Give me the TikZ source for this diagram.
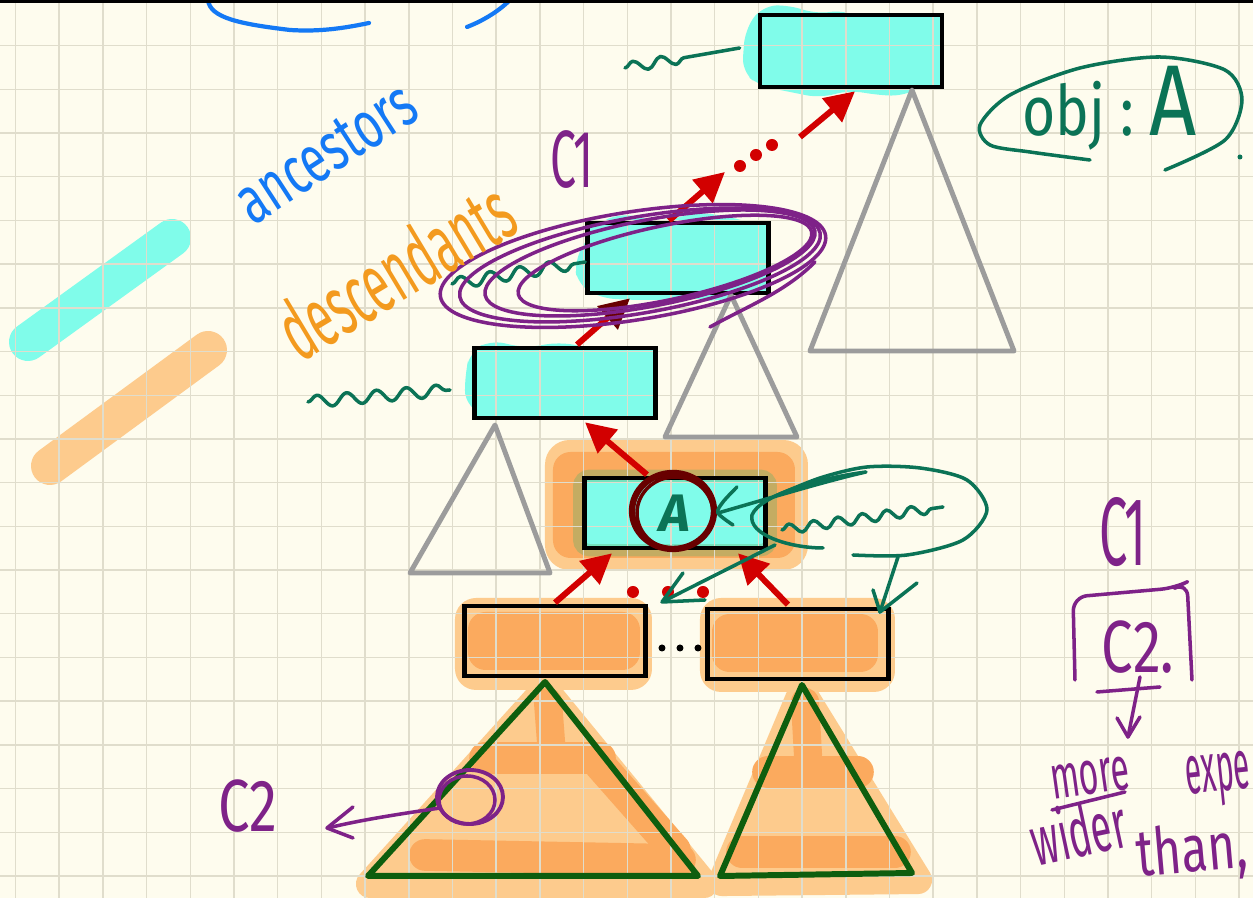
\documentclass[tikz,border=0pt]{standalone}
\usepackage{fontspec}
\setmainfont{Fira Sans}
\usepackage{graphicx}
\usetikzlibrary{arrows.meta,calc,decorations.pathmorphing}

\definecolor{paper}{HTML}{FEFCEE}
\definecolor{rule}{HTML}{E0DDCC}
\definecolor{hlcyan}{HTML}{80FCEA}
\definecolor{orlight}{HTML}{FDCB8D}
\definecolor{ormid}{HTML}{FBAA5E}
\definecolor{hlgreen}{HTML}{5FB26A}
\definecolor{arrowred}{HTML}{D20000}
\definecolor{maroon}{HTML}{680000}
\definecolor{inkteal}{HTML}{0B7356}
\definecolor{treegreen}{HTML}{0E5E0E}
\definecolor{inkpurple}{HTML}{7E2288}
\definecolor{inkblue}{HTML}{1479F5}
\definecolor{inkorange}{HTML}{F39A1E}
\definecolor{treegray}{HTML}{9C9C9C}

\pgfdeclarelayer{paperlayer}
\pgfdeclarelayer{paint}
\pgfdeclarelayer{gridlayer}
\pgfsetlayers{paperlayer,paint,gridlayer,main}

\tikzset{
  box/.style={draw=black, line width=1.3pt, minimum width=1.81cm, minimum height=0.7cm, inner sep=0pt},
  tree/.style={treegray, line width=1.4pt, line join=round},
  subtree/.style={treegreen, line width=1.7pt, line join=round},
  link/.style={arrowred, line width=1.7pt, -{Triangle[length=8.5pt,width=8.5pt]}},
  ink/.style={line width=1pt, line cap=round, line join=round},
  wave/.style={ink, inkteal, decorate, decoration={snake, amplitude=1.6pt, segment length=8pt}},
  hand/.style={inner sep=0pt},
  band/.style={ormid, line width=9pt, line cap=round},
}

\begin{document}
\begin{tikzpicture}[x=0.01cm, y=-0.01cm]
\useasboundingbox (0,0) rectangle (1253,898);

% the chain of objects
\node[box, minimum width=1.82cm, minimum height=0.72cm] (top) at (851,51) {};
\node[box] (c1) at (678,258) {};
\node[box] (b3) at (565,383) {};
\node[box] (a) at (675,513) {};
\node[box] (bl) at (555,641) {};
\node[box] (br) at (798,644) {};

\begin{pgfonlayer}{paperlayer}
  \fill[paper] (0,0) rectangle (1253,898);
\end{pgfonlayer}

\begin{pgfonlayer}{gridlayer}
  \foreach \i in {0,...,28}
    \draw[rule, line width=0.4pt] ({15.5+43.7*\i},0) -- ({15.5+43.7*\i},898);
  \foreach \j in {1,...,20}
    \draw[rule, line width=0.4pt] (0,{2+43.7*\j}) -- (1253,{2+43.7*\j});
\end{pgfonlayer}

\begin{pgfonlayer}{paint}
  % highlighter legend strips
  \draw[hlcyan, line width=10.8pt, line cap=round] (28,342) -- (172,238);
  \draw[orlight, line width=10.8pt, line cap=round] (50,466) -- (208,350);

  % cyan marker behind the ancestors
  \fill[hlcyan, rounded corners=4pt] (745,30) -- (762,6) -- (790,5) -- (815,14) -- (845,10)
     -- (870,22) -- (900,16) -- (935,22) -- (937,78) -- (905,96) -- (875,95) -- (850,90)
     -- (820,98) -- (790,92) -- (760,86) -- (742,72) -- cycle;
  \fill[hlcyan, rounded corners=4pt] (595,225) -- (620,213) -- (660,222) -- (700,212)
     -- (735,218) -- (762,226) -- (768,245) -- (760,270) -- (740,292) -- (720,303)
     -- (700,298) -- (660,300) -- (630,300) -- (600,298) -- (578,285) -- (574,262) -- cycle;
  \fill[hlcyan, rounded corners=4pt] (470,352) -- (490,340) -- (525,348) -- (560,342)
     -- (600,350) -- (632,352) -- (642,372) -- (640,400) -- (630,418) -- (490,418)
     -- (465,405) -- (465,375) -- cycle;
  \fill[hlcyan] (top.south west) rectangle (top.north east);
  \fill[hlcyan] (c1.south west) rectangle (c1.north east);
  \fill[hlcyan] (b3.south west) rectangle (b3.north east);

  % orange marker round the current object
  \fill[orlight, rounded corners=7pt] (545,440) rectangle (808,570);
  \fill[ormid, rounded corners=5pt] (553,452) rectangle (795,558);
  \fill[hlcyan] (a.south west) rectangle (a.north east);
  \draw[hlgreen, opacity=0.35, line width=3.5pt, rounded corners=3pt]
     ($(a.south west)+(-3,0)$) rectangle ($(a.north east)+(3,0)$);

  % orange marker on the descendants
  \fill[orlight, rounded corners=6pt] (455,598) rectangle (652,690);
  \fill[ormid, rounded corners=5pt] (468,612) rectangle (640,670);
  \fill[orlight, rounded corners=6pt] (700,598) rectangle (895,692);
  \fill[ormid, rounded corners=5pt] (712,614) rectangle (878,672);

  \filldraw[orlight, line width=8pt, line join=round] (545,690) -- (704,884) -- (370,884) -- cycle;
  \draw[band, line width=8pt] (548,702) -- (552,755);
  \draw[band] (485,758) -- (600,758);
  \draw[band] (425,855) -- (680,860);
  \draw[band] (600,765) -- (675,850);
  \filldraw[orlight, line width=8pt, line join=round] (802,692) -- (918,880) -- (722,882) -- cycle;
  \draw[band, line width=8pt] (805,702) -- (808,755);
  \draw[band] (768,772) -- (858,772);
  \draw[band] (742,852) -- (895,852);
\end{pgfonlayer}

% grey subtrees hanging from the ancestors
\draw[tree] (912,90) -- (1014,351) -- (810,351) -- cycle;
\draw[tree] (731,295) -- (797,437) -- (665,437) -- cycle;
\draw[tree] (495,425) -- (550,573) -- (410,573) -- cycle;

% green subtrees of the descendants
\draw[subtree] (545,682) -- (698,876) -- (368,876) -- cycle;
\draw[subtree] (802,685) -- (912,873) -- (720,876) -- cycle;

% parent links
\coordinate (up1) at (725,172);
\coordinate (dotsend) at (800,137);
\draw[link, -{Triangle[length=8.5pt,width=8.5pt,color=maroon]}]
   ($(b3.north)+(12,-1)$) -- ($(c1.south)+(-48,3)$);
\draw[link] ($(c1.north)+(-9,0)$) -- (up1);
\foreach \p in {(740,166),(756,155),(772,145)}
  \fill[arrowred] \p circle[radius=6];
\draw[link] (dotsend) -- ($(top.south)+(4,2)$);
\draw[link] ($(a.north)+(-28,-1)$) -- ($(b3.south)+(20,2)$);
\draw[link] ($(bl.north)+(0,-1)$) -- ($(a.south)+(-63,3)$);
\draw[link] ($(br.north)+(-10,-2)$) -- ($(a.south)+(63,3)$);
\foreach \p in {(633,592),(668,592),(703,592)}
  \fill[arrowred] \p circle[radius=6];
\foreach \p in {(662,648),(680,648),(698,648)}
  \fill[black] \p circle[radius=3.5];

% the object A
\node[hand, inkteal] (alabel) at (a) {\fontsize{15}{15}\selectfont\bfseries\itshape A};
\draw[maroon, line width=1.8pt] ($(a)+(-2,-2)$) ellipse [x radius=41, y radius=38];
\draw[maroon, line width=1pt] (a) ellipse [x radius=38, y radius=36];

% notes beside the object
\draw[ink, inkteal] plot[smooth] coordinates {(737,487) (723,502) (718,513) (733,525)};
\draw[ink, inkteal] (718,513) .. controls (770,498) and (830,480) .. (866,472)
   .. controls (820,478) and (760,495) .. (752,515) .. controls (748,535) and (790,548) .. (823,548);
\draw[ink, inkteal] plot[smooth] coordinates {(773,497) (820,478) (867,467) (920,468) (967,480) (987,510) (963,540) (907,555) (853,555)};
\draw[wave, decoration={snake, amplitude=1.4pt, segment length=7pt}] (782,530) -- (943,507);
\draw[ink, inkteal] (898,557) -- (880,612);
\draw[ink, inkteal] (873,590) -- (880,612) -- (917,583);
\draw[ink, inkteal] (775,545) -- (664,601);
\draw[ink, inkteal] (683,573) -- (662,602) -- (705,600);

% anonymous fields of the ancestors
\draw[wave, decoration={snake, amplitude=1.5pt, segment length=8pt, post length=14pt}] (625,68) -- ($(top.west)+(-18,-3)$);
\draw[wave, decoration={snake, amplitude=1.7pt, segment length=8.5pt}] (452,284) -- ($(c1.west)+(0,4)$);
\draw[wave, decoration={snake, amplitude=1.7pt, segment length=8.5pt}] (308,402) -- (450,390);

% C1 scope
\foreach \cx/\cy/\rx/\ry/\ang in {633/266/195/54/9, 640/265/183/48/10, 650/263/168/43/11, 665/263/150/37/12}
  \draw[ink, inkpurple, rotate around={\ang:(\cx,\cy)}] (\cx,\cy) ellipse [x radius=\rx, y radius=\ry];
\draw[ink, inkpurple] (710,327) .. controls (750,305) and (785,292) .. (815,262);

% labels
\node[hand, inkblue, rotate=33] (ancestors) at (326,153)
  {\fontsize{16}{16}\selectfont\scalebox{0.82}[1.2]{ancestors}};
\node[hand, inkorange, rotate=31] (descendants) at (395,270)
  {\fontsize{20}{20}\selectfont\scalebox{0.64}[1.2]{descendants}};
\node[hand, inkpurple] (cone) at (572,160)
  {\fontsize{22}{22}\selectfont\scalebox{0.6}[1.05]{C1}};

% obj : A
\draw[ink, inkteal] plot[smooth] coordinates {(1090,160) (1030,152) (990,145) (980,125) (1010,95) (1080,68) (1160,57) (1225,70) (1242,100) (1225,140) (1165,170)};
\node[hand, inkteal, anchor=base west] (objA) at (1022,136)
  {\scalebox{0.9}[1.1]{\fontsize{18}{18}\selectfont obj :\ \fontsize{26}{26}\selectfont A}};
\fill[inkteal] (1240,157) circle[radius=2.5];

% C2 inside the descendant subtree
\draw[inkpurple, line width=1.1pt] (470,797) ellipse [x radius=33, y radius=27];
\draw[inkpurple, line width=1pt] (467,800) ellipse [x radius=28, y radius=24];
\draw[ink, inkpurple] (440,808) .. controls (400,814) and (360,820) .. (328,828);
\draw[ink, inkpurple] (353,807) -- (327,828) -- (353,838);
\node[hand, inkpurple] (ctwo) at (248,806)
  {\fontsize{20}{20}\selectfont\scalebox{0.8}[1.05]{C2}};

% C1 / C2 aside
\node[hand, inkpurple] (conert) at (1123,532)
  {\fontsize{24}{24}\selectfont\scalebox{0.6}[1.15]{C1}};
\draw[ink, inkpurple, rounded corners=4pt] (1075,680) -- (1073,597) -- (1175,588) -- (1187,582) -- (1192,680);
\node[hand, inkpurple] (ctwort) at (1138,647)
  {\fontsize{20}{20}\selectfont\scalebox{0.8}[1.05]{C2.}};
\draw[ink, inkpurple] (1097,692) -- (1160,687);
\draw[ink, inkpurple] (1140,677) -- (1128,737);
\draw[ink, inkpurple] (1117,718) -- (1128,737) -- (1140,717);
\node[hand, inkpurple, rotate=8] (more) at (1090,778)
  {\fontsize{16}{16}\selectfont\scalebox{0.6}[1.1]{more}};
\draw[ink, inkpurple] (1052,810) -- (1125,792);
\node[hand, inkpurple, rotate=12] (wider) at (1078,830)
  {\fontsize{18}{18}\selectfont\scalebox{0.6}[1.1]{wider}};
\node[hand, inkpurple, rotate=6, anchor=west] (expe) at (1186,783)
  {\fontsize{18}{18}\selectfont\scalebox{0.47}[1.1]{expe}};
\node[hand, inkpurple, rotate=5] (than) at (1192,853)
  {\fontsize{17}{17}\selectfont\scalebox{0.8}[1.1]{than,}};

% blue strokes at the top edge
\draw[ink, inkblue, line width=1.2pt] (208,0) .. controls (210,18) and (240,24) .. (290,30)
   .. controls (320,32) and (345,28) .. (369,23);
\draw[ink, inkblue, line width=1.2pt] (467,27) .. controls (485,20) and (500,10) .. (510,0);

% page edge
\fill[black] (0,0) rectangle (1253,3);
\end{tikzpicture}
\end{document}
